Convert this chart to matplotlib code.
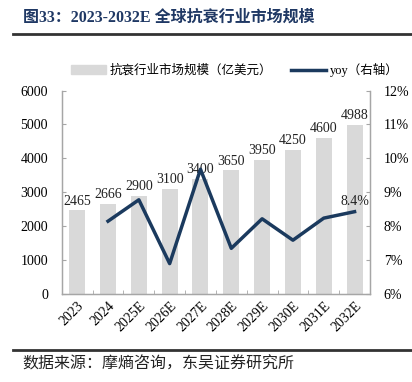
import numpy as np
import matplotlib
matplotlib.use("Agg")
import matplotlib.pyplot as plt
from matplotlib.lines import Line2D

plt.rcParams['font.family'] = ['Liberation Serif', 'Noto Sans CJK SC']

# Dati
anni = ['2023', '2024', '2025E', '2026E', '2027E', '2028E', '2029E', '2030E', '2031E', '2032E']
mercato = [2465, 2666, 2900, 3100, 3400, 3650, 3950, 4250, 4600, 4988]
yoy = [None, 8.15, 8.78, 6.90, 9.68, 7.35, 8.22, 7.59, 8.24, 8.43]

titolo = "图33：2023-2032E 全球抗衰行业市场规模"
fonte = "数据来源：摩熵咨询，东吴证券研究所"
nome_barre = "抗衰行业市场规模（亿美元）"
nome_linea = "yoy（右轴）"

col_barre = '#D9D9D9'
col_linea = '#1B3A5E'
col_asse = '#A6A6A6'

fig = plt.figure(figsize=(4.12, 3.82), dpi=100)
ax = fig.add_axes([0.150, 0.230, 0.748, 0.533])
ax2 = ax.twinx()

x = np.arange(len(anni))
ax.bar(x, mercato, width=0.52, color=col_barre, zorder=1)
for xi, v in zip(x, mercato):
    ax.text(xi, v + 80, f"{v}", ha='center', va='bottom', fontsize=10, color='#222222')

xl = [xi for xi, v in zip(x, yoy) if v is not None]
yl = [v for v in yoy if v is not None]
ax2.plot(xl, yl, color=col_linea, lw=2.5, zorder=3)
ax2.text(xl[-1], yl[-1] + 0.12, f"{yl[-1]:.1f}%", ha='center', va='bottom', fontsize=10, color='#222222')

ax.set_xlim(-0.5, len(anni) - 0.5)
ax.set_ylim(0, 6000)
ax.set_yticks(range(0, 6001, 1000))
ax2.set_ylim(6, 12)
ax2.set_yticks(range(6, 13))
ax2.set_yticklabels([f"{t}%" for t in range(6, 13)])

ax.set_xticks(x)
ax.set_xticklabels(anni, rotation=45, ha='right', rotation_mode='anchor')
ax.set_xticks(np.arange(-0.5, len(anni), 1), minor=True)
ax.tick_params(axis='x', which='major', length=0, labelsize=10, pad=4)
ax.tick_params(axis='x', which='minor', length=3, direction='in', color=col_asse)
ax.tick_params(axis='y', length=3, direction='in', color=col_asse, labelsize=10, pad=10)
ax2.tick_params(axis='y', length=3, direction='in', color=col_asse, labelsize=10, pad=10)

for a in (ax, ax2):
    a.spines['top'].set_visible(False)
    for s in ('left', 'right', 'bottom'):
        a.spines[s].set_color(col_asse)
        a.spines[s].set_linewidth(0.9)

# Legenda
handles = [plt.Rectangle((0, 0), 1, 1, color=col_barre),
           Line2D([0], [0], color=col_linea, lw=2.5)]
fig.legend(handles, [nome_barre, nome_linea], loc='center', bbox_to_anchor=(0.57, 0.817),
           ncol=2, frameon=False, fontsize=9, handlelength=2.8, handletextpad=0.3,
           columnspacing=1.5)

# Titolo e fonte
fig.text(0.055, 0.955, titolo, fontsize=11.5, fontweight='bold', color='#1F3864', va='center')
fig.add_artist(Line2D([0.032, 1.0], [0.911, 0.911], color='#333333', lw=2))
fig.add_artist(Line2D([0.032, 1.0], [0.083, 0.083], color='#333333', lw=2))
fig.text(0.055, 0.045, fonte, fontsize=11.5, color='#222222', va='center')

fig.savefig("out.png", dpi=100)
